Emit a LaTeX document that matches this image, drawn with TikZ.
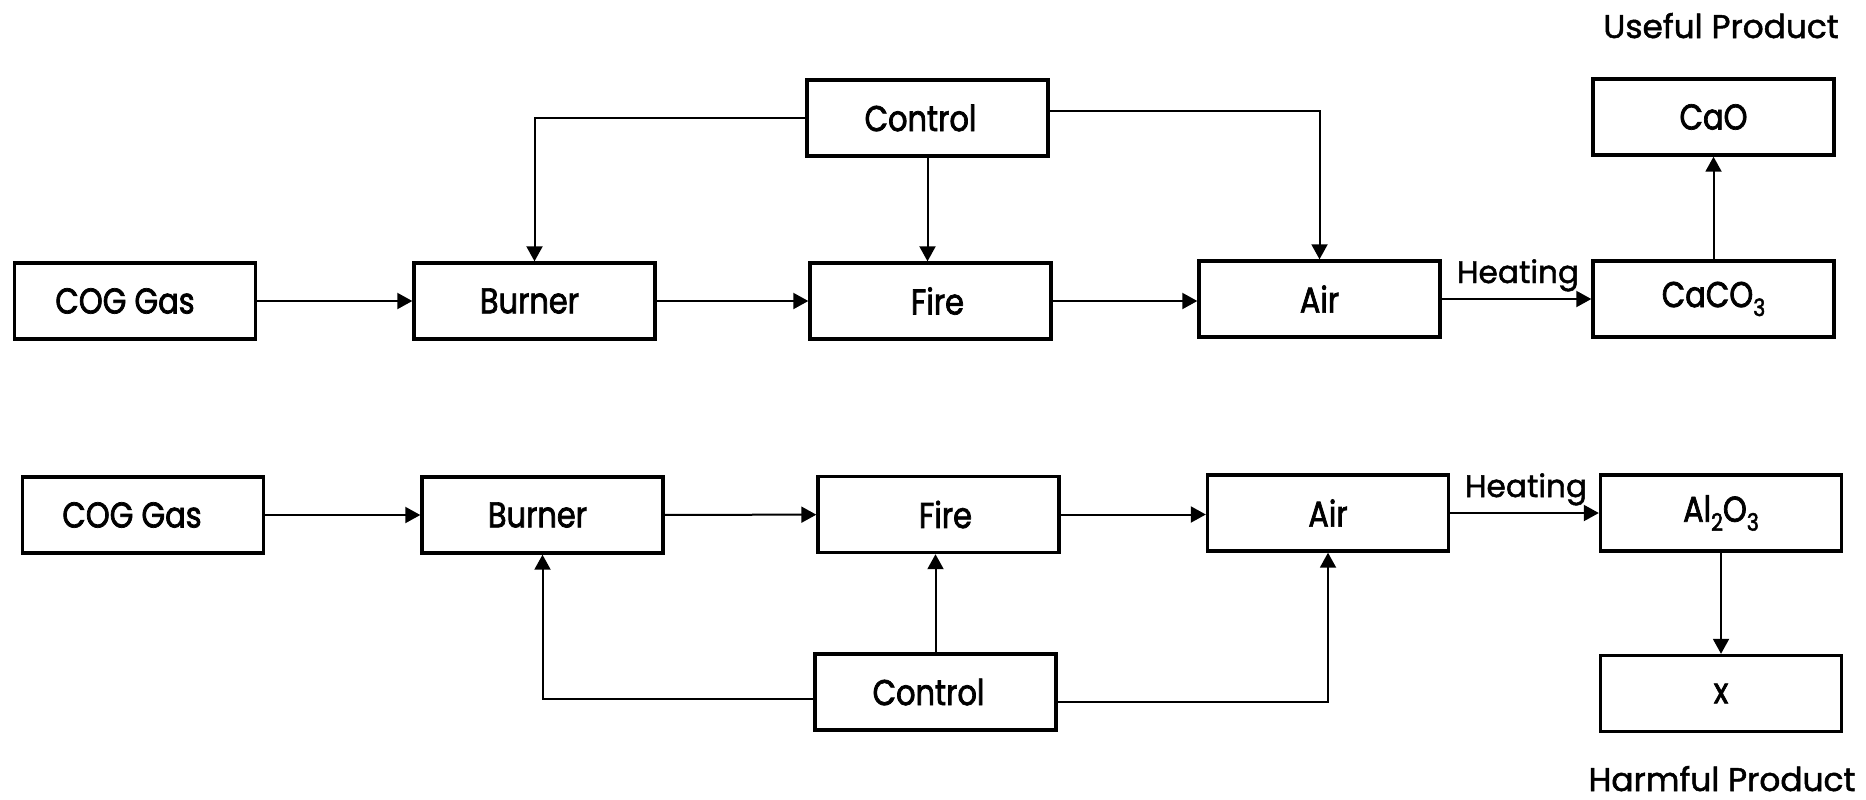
\documentclass[tikz,border=0pt]{standalone}
\usepackage{fontspec}
\setmainfont{Poppins}
\newfontfamily\labelfont[FakeBold=1.5]{Poppins}
\newfontfamily\boxfont[FakeStretch=0.85,FakeBold=2]{Poppins}
\usetikzlibrary{arrows.meta}
% chemical subscript, set large and low
\newcommand\chsub[1]{\raisebox{-4.5pt}{\fontsize{12}{12}\selectfont #1}}

\tikzset{
  blk/.style={draw, line width=1.7pt, minimum width=120.5pt, minimum height=38pt,
    inner sep=0pt, font=\boxfont\fontsize{17.9}{20}\selectfont},
  flow/.style={line width=1pt, -{Triangle[length=7.5pt,width=8pt]}},
  tag/.style={anchor=base, inner sep=0pt, font=\labelfont\fontsize{16.4}{18}\selectfont},
  heat/.style={anchor=base, inner sep=0pt, font=\labelfont\fontsize{15.6}{17}\selectfont},
}

\begin{document}
\begin{tikzpicture}[x=0.5pt,y=-0.5pt]
\fill[white] (0,0) rectangle (1866,799);
\path[use as bounding box] (0,0) rectangle (1866,799);

% ---- upper process: limestone ----
\node[blk] (cog1)    at (135,301)    {COG Gas\hspace*{10pt}};
\node[blk] (burn1)   at (534.5,301)  {Burner\hspace*{5pt}};
\node[blk] (fire1)   at (930.5,301)  {\hspace*{7pt}Fire};
\node[blk] (air1)    at (1319.5,299) {Air};
\node[blk] (caco3)   at (1713.5,299) {CaCO\chsub{3}};
\node[blk] (cao)     at (1713.5,117) {CaO};
\node[blk] (ctrl1)   at (927.5,118)  {Control\hspace*{7pt}};
\node[tag] (useful)  at (1721,38)    {Useful Product};
\node[heat] (heat1)  at (1518,283)   {Heating};

\draw[flow] (cog1) -- (burn1);
\draw[flow] (burn1) -- (fire1);
\draw[flow] (fire1.east) -- (fire1.east -| air1.west);
\draw[flow] (air1) -- (caco3);
\draw[flow] (caco3) -- (cao);
\draw[flow] (ctrl1.west) -| (burn1.north);
\draw[flow] (ctrl1.south) -- (ctrl1.south |- fire1.north);
\draw[flow] ([yshift=3.5pt]ctrl1.east) -| (air1.north);

% ---- lower process: alumina ----
\node[blk] (cog2)    at (143,515)    {COG Gas\hspace*{11pt}};
\node[blk] (burn2)   at (542.5,515)  {Burner\hspace*{5pt}};
\node[blk] (fire2)   at (938.5,514.5){\hspace*{7pt}Fire};
\node[blk] (air2)    at (1328,513)   {Air};
\node[blk] (al2o3)   at (1721,513)   {Al\chsub{2}O\chsub{3}};
\node[blk] (xout)    at (1721,693.5) {x};
\node[blk] (ctrl2)   at (935.5,692)  {Control\hspace*{7pt}};
\node[tag] (harmful) at (1722,791)   {Harmful Product};
\node[heat] (heat2)  at (1526,497)   {Heating};

\draw[flow] (cog2) -- (burn2);
\draw[flow] (burn2) -- (fire2);
\draw[flow] (fire2.east) -- (fire2.east -| air2.west);
\draw[flow] (air2) -- (al2o3);
\draw[flow] (al2o3) -- (xout);
\draw[flow] ([yshift=-3.5pt]ctrl2.west) -| (burn2.south);
\draw[flow] (ctrl2.north) -- (ctrl2.north |- fire2.south);
\draw[flow] ([yshift=-5pt]ctrl2.east) -| (air2.south);
\end{tikzpicture}
\end{document}
